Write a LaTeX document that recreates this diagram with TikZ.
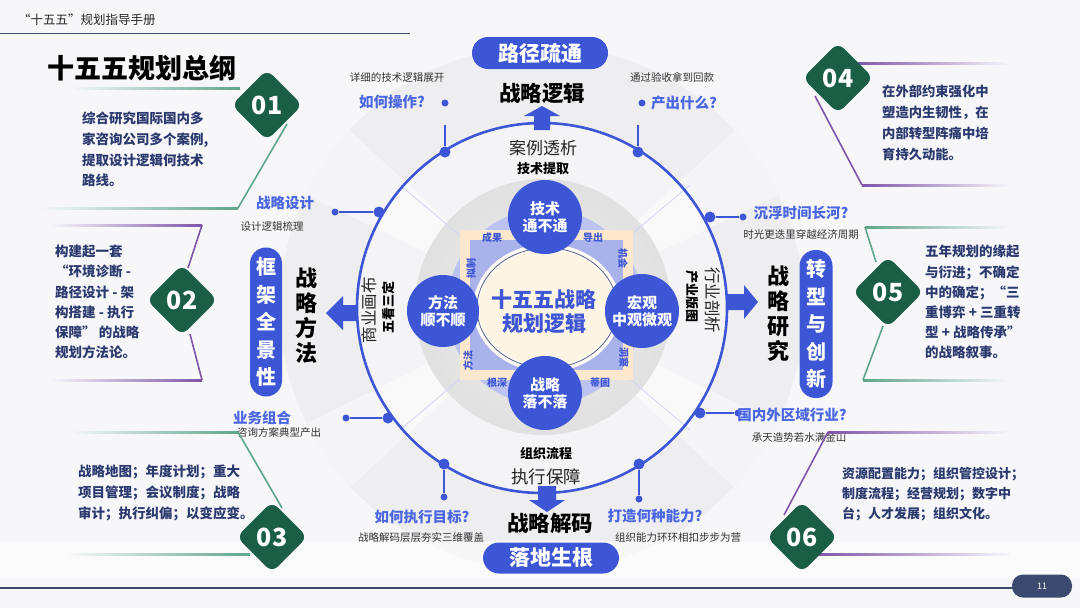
\documentclass[tikz,border=0pt]{standalone}
\usepackage{fontspec}
\setmainfont{Noto Sans CJK SC}
\usetikzlibrary{calc}
\definecolor{mblue}{HTML}{3D56D6}
\definecolor{qblue}{HTML}{4A66E2}
\definecolor{navy}{HTML}{2B3A6E}
\definecolor{dgreen}{HTML}{1B5E46}
\definecolor{lgreen}{HTML}{5FA58A}
\definecolor{lpurple}{HTML}{7E55A8}
\definecolor{bgc}{HTML}{F7F7FA}
\definecolor{hdr}{HTML}{3B4A6E}
\definecolor{bggray}{HTML}{EEEEF1}
\definecolor{lav}{HTML}{BCC3F0}
\definecolor{cream}{HTML}{FBE8CC}
\definecolor{inblue}{HTML}{A9B2EA}
\definecolor{ccream}{HTML}{FDF4E3}
\newcommand\fsz[2]{\fontsize{#1}{#2}\selectfont}
\begin{document}
\begin{tikzpicture}[x=1pt,y=-1pt,
  ringdot/.style={circle,fill=mblue,inner sep=0pt,minimum size=11pt},
  smalldot/.style={circle,fill=mblue,inner sep=0pt,minimum size=7pt},
  qlabel/.style={text=qblue,font=\fsz{14.5}{17}\bfseries,inner sep=0pt},
  note/.style={text=black!80,font=\fsz{10.5}{12},inner sep=0pt},
  pill/.style={fill=mblue,rounded corners=16pt,text=white,inner sep=0pt},
  gdiamond/.style={fill=dgreen,rounded corners=8pt,rotate=45,minimum size=50pt,inner sep=0pt},
  dnum/.style={text=white,font=\fsz{25}{28}\bfseries,inner sep=0pt},
  bcircle/.style={circle,fill=mblue,text=white,font=\fsz{15}{17}\bfseries,align=center,minimum size=74pt,inner sep=0pt},
  block/.style={text=navy,font=\fsz{13.5}{20.6}\bfseries,align=left,anchor=north west,inner sep=0pt},
  sqlabel/.style={text=mblue,font=\fsz{10}{11}\bfseries,inner sep=0pt},
  conn/.style={mblue,line width=1.3pt},
  gline/.style={lgreen,line width=1.6pt},
  pline/.style={lpurple,line width=1.6pt},
  bigtitle/.style={text=black,font=\fsz{21.5}{24}\bfseries,inner sep=0pt},
  vtitle/.style={text=black,font=\fsz{22}{25}\bfseries,align=center,inner sep=0pt},
]
\useasboundingbox (0,0) rectangle (1080,608);
% ---------- background ----------
\fill[bgc] (0,0) rectangle (1080,608);
\fill[bggray] (542,308) circle (262);
\begin{scope}
\clip (542,308) circle (262);
\fill[white,opacity=.45] (542,308) -- (230,20) -- (150,120) -- cycle;
\fill[white,opacity=.45] (542,308) -- (855,20) -- (935,120) -- cycle;
\fill[white,opacity=.45] (542,308) -- (230,600) -- (150,500) -- cycle;
\fill[white,opacity=.45] (542,308) -- (855,600) -- (935,500) -- cycle;
\end{scope}
\fill[white,opacity=.55] (0,541) rectangle (1080,579);
\fill[white,opacity=.4] (542,308) circle (184);
% inner layers
\shade[inner color=gray!12,outer color=gray!24] (543,307) circle (128);
\fill[lav] (545,307) circle (98);
\draw[lav!70!white,line width=.8pt] (545,307) -- (400,185);
\draw[lav!70!white,line width=.8pt] (545,307) -- (690,185);
\draw[lav!70!white,line width=.8pt] (545,307) -- (400,430);
\draw[lav!70!white,line width=.8pt] (545,307) -- (690,430);
\fill[cream] (460,230) rectangle (633,380);
\fill[inblue] (470,240) rectangle (623,370);
\fill[white!60!ccream] (547,308) ellipse (74 and 64);
\fill[ccream] (547,308) ellipse (68 and 58);
\draw[navy!80,line width=.8pt] (547,308) ellipse (70 and 60);
% ---------- header ----------
\node[anchor=west,text=black!85,font=\fsz{12.5}{14},inner sep=0pt] (hdrtxt) at (18,20) {“十五五”规划指导手册};
\draw[hdr,line width=1pt] (0,33) -- (410,33);
\node[anchor=west,text=black,font=\fsz{27}{30}\bfseries,inner sep=0pt] (title) at (47,68) {十五五规划总纲};
% ---------- footer ----------
\draw[hdr,line width=1.2pt] (0,588) -- (1015,588);
\node[fill=hdr,rounded corners=11pt,minimum width=60pt,minimum height=23pt,text=white!85,font=\fsz{9}{10},inner sep=0pt] (pg) at (1042,586) {11};
% ---------- main ring ----------
\draw[mblue,line width=2.6pt] (542,308) circle (185);
% arrows
\fill[mblue] (534,130) -- (534,116) -- (524,116) -- (542,106) -- (560,116) -- (550,116) -- (550,130) -- cycle;
\fill[mblue] (357,305) -- (343,305) -- (343,296) -- (326,313) -- (343,330) -- (343,321) -- (357,321) -- cycle;
\fill[mblue] (728,294) -- (744,294) -- (744,285) -- (758,302) -- (744,319) -- (744,310) -- (728,310) -- cycle;
\fill[mblue] (538,486) -- (538,500) -- (529,500) -- (547,512) -- (565,500) -- (556,500) -- (556,486) -- cycle;
% ring dots and connectors
\node[ringdot] (rTL) at (445,152) {};
\node[ringdot] (rTR) at (638,152) {};
\node[ringdot] (rLU) at (379,212) {};
\node[ringdot] (rLD) at (388,418) {};
\node[ringdot] (rRU) at (710,217) {};
\node[ringdot] (rRD) at (700,413) {};
\node[ringdot] (rBL) at (444,464) {};
\node[ringdot] (rBR) at (639,464) {};
\coordinate (eTL) at (445,125);
\coordinate (eTR) at (638,125);
\node[smalldot] (sTL) at (445,103) {};
\node[smalldot] (sTR) at (642,103) {};
\node[smalldot] (sLU) at (335,212) {};
\node[smalldot] (sLD) at (346,418) {};
\node[smalldot] (sRU) at (743,217) {};
\node[smalldot] (sRD) at (738,413) {};
\node[smalldot] (sBL) at (444,497) {};
\node[smalldot] (sBR) at (639,499) {};
\draw[conn] (rTL) -- (eTL);
\draw[conn] (rTR) -- (eTR);
\draw[conn] (rLU) -- (sLU);
\draw[conn] (rLD) -- (sLD);
\draw[conn] (rRU) -- (sRU);
\draw[conn] (rRD) -- (sRD);
\draw[conn] (rBL) -- (sBL);
\draw[conn] (rBR) -- (sBR);
% ---------- top ----------
\node[pill,minimum width=136pt,minimum height=32pt,font=\fsz{21}{24}\bfseries] (pTop) at (540,53) {路径疏通};
\node[bigtitle] (tTop) at (542,93) {战略逻辑};
\node[text=black!85,font=\fsz{17}{20},inner sep=0pt] (aTop) at (543,148) {案例透析};
\node[text=black,font=\fsz{13}{15}\bfseries,inner sep=0pt] (bTop) at (543,169) {技术提取};
\node[note] (n1) at (397,78) {详细的技术逻辑展开};
\node[qlabel] (q1) at (392,102) {如何操作?};
\node[note] (n2) at (672,77) {通过验收拿到回款};
\node[qlabel] (q2) at (684,103) {产出什么?};
% ---------- left ----------
\node[qlabel] (q3) at (285,203) {战略设计};
\node[note] (n3) at (272,227) {设计逻辑梳理};
\node[qlabel] (q4) at (262,418) {业务组合};
\node[note] (n4) at (279,433) {咨询方案典型产出};
\node[pill,minimum width=32pt,minimum height=149pt,align=center,font=\fsz{20}{27.5}\bfseries] (pLeft) at (266,322) {框\\架\\全\\景\\性};
\node[vtitle] (tLeft) at (306,316) {战\\略\\方\\法};
\node[text=black!85,font=\fsz{16.5}{18},inner sep=0pt,rotate=90] (aLeft) at (369,310) {商业画布};
\node[text=black,font=\fsz{13}{15}\bfseries,inner sep=0pt,rotate=90] (bLeft) at (388,307) {五看三定};
% ---------- right ----------
\node[qlabel] (q5) at (801,213) {沉浮时间长河?};
\node[note] (n5) at (801,235) {时光更迭里穿越经济周期};
\node[qlabel] (q6) at (792,415) {国内外区域行业?};
\node[note] (n6) at (799,437) {承天造势若水满金山};
\node[pill,minimum width=33pt,minimum height=148pt,align=center,font=\fsz{20}{27.5}\bfseries] (pRight) at (816,324) {转\\型\\与\\创\\新};
\node[vtitle] (tRight) at (778,314) {战\\略\\研\\究};
\node[text=black!85,font=\fsz{16.5}{18},inner sep=0pt,rotate=-90] (aRight) at (713,300) {行业剖析};
\node[text=black,font=\fsz{13}{15}\bfseries,inner sep=0pt,rotate=-90] (bRight) at (692,296) {产业版图};
% ---------- bottom ----------
\node[text=black,font=\fsz{13}{15}\bfseries,inner sep=0pt] (aBot) at (546,454) {组织流程};
\node[text=black!85,font=\fsz{17.5}{20},inner sep=0pt] (bBot) at (546,477) {执行保障};
\node[bigtitle] (tBot) at (550,523) {战略解码};
\node[pill,minimum width=136pt,minimum height=31pt,font=\fsz{21}{24}\bfseries] (pBot) at (551,558) {落地生根};
\node[qlabel] (q7) at (422,517) {如何执行目标?};
\node[note] (n7) at (421,538) {战略解码层层夯实三维覆盖};
\node[qlabel] (q8) at (655,516) {打造何种能力?};
\node[note] (n8) at (678,538) {组织能力环环相扣步步为营};
% ---------- centre ----------
\node[sqlabel] (s1) at (492,238) {成果};
\node[sqlabel] (s2) at (593,238) {导出};
\node[sqlabel,rotate=-90] (s3) at (623,258) {机会};
\node[sqlabel,rotate=90] (s4) at (471,268) {拟制};
\node[sqlabel,rotate=90] (s5) at (468,360) {方法};
\node[sqlabel,rotate=-90] (s6) at (624,357) {洞察};
\node[sqlabel] (s7) at (497,383) {根深};
\node[sqlabel] (s8) at (600,383) {蒂固};
\node[bcircle] (cT) at (545,217) {技术\\通不通};
\node[bcircle,minimum size=72pt] (cL) at (443,311) {方法\\顺不顺};
\node[bcircle] (cR) at (642,311) {宏观\\中观微观};
\node[bcircle] (cB) at (545,393) {战略\\落不落};
\node[text=mblue,font=\fsz{21}{24}\bfseries,align=center,inner sep=0pt] (ctr) at (544,312) {十五五战略\\规划逻辑};
% ---------- side blocks: lines ----------
% 01
\shade[left color=bgc,right color=lgreen] (70,87.2) rectangle (240,89.2);
\coordinate (a1) at (287,124);
\coordinate (b1) at (238,208);
\draw[gline] (a1) -- (b1);
\shade[left color=bgc,right color=lgreen] (40,207.2) rectangle (238,209.2);
% 02
\coordinate (a2t) at (202,225);
\coordinate (b2t) at (188,268);
\coordinate (a2b) at (190,334);
\coordinate (b2b) at (202,380);
\shade[left color=bgc,right color=lpurple] (50,224.2) rectangle (202,226.2);
\draw[pline] (a2t) -- (b2t);
\draw[pline] (a2b) -- (b2b);
\shade[left color=bgc,right color=lpurple] (50,379.2) rectangle (202,381.2);
% 03
\coordinate (a3) at (238,432);
\coordinate (b3) at (282,508);
\shade[left color=bgc,right color=lgreen] (70,431.2) rectangle (238,433.2);
\draw[gline] (a3) -- (b3);
\shade[left color=bgc,right color=lgreen] (70,553.2) rectangle (250,555.2);
% 04
\coordinate (a4) at (815,96);
\coordinate (b4) at (862,185);
\shade[left color=lpurple,right color=bgc] (855,62.2) rectangle (1010,64.2);
\draw[pline] (a4) -- (b4);
\shade[left color=lpurple,right color=bgc] (862,184.2) rectangle (1010,186.2);
% 05
\coordinate (a5t) at (865,227);
\coordinate (b5t) at (876,262);
\coordinate (a5b) at (883,326);
\coordinate (b5b) at (863,380);
\shade[left color=lgreen,right color=bgc] (865,226.2) rectangle (1010,228.2);
\draw[gline] (a5t) -- (b5t);
\draw[gline] (a5b) -- (b5b);
\shade[left color=lgreen,right color=bgc] (863,379.2) rectangle (1010,381.2);
% 06
\coordinate (a6) at (828,432);
\coordinate (b6) at (784,515);
\shade[left color=lpurple,right color=bgc] (828,431.2) rectangle (1010,433.2);
\draw[pline] (a6) -- (b6);
\shade[left color=lpurple,right color=bgc] (815,553.2) rectangle (1010,555.2);
% diamonds
\node[gdiamond] (d1) at (267,105) {};
\node[dnum] (d1n) at (d1) {01};
\node[gdiamond] (d2) at (182,300) {};
\node[dnum] (d2n) at (d2) {02};
\node[gdiamond] (d3) at (272,537) {};
\node[dnum] (d3n) at (d3) {03};
\node[gdiamond] (d4) at (838,78) {};
\node[dnum] (d4n) at (d4) {04};
\node[gdiamond] (d5) at (888,292) {};
\node[dnum] (d5n) at (d5) {05};
\node[gdiamond] (d6) at (802,537) {};
\node[dnum] (d6n) at (d6) {06};
% text blocks
\node[block] (t1) at (82,112) {综合研究国际国内多\\家咨询公司多个案例,\\提取设计逻辑何技术\\路线。};
\node[block,font=\fsz{13.5}{20.2}\bfseries] (t2) at (55,245) {构建起一套\\“环境诊断 -\\路径设计 - 架\\构搭建 - 执行\\保障” 的战略\\规划方法论。};
\node[block,font=\fsz{13.5}{21}\bfseries] (t3) at (78,465) {战略地图；年度计划；重大\\项目管理；会议制度；战略\\审计；执行纠偏；以变应变。};
\node[block,font=\fsz{13.3}{21}\bfseries] (t4) at (882,85) {在外部约束强化中\\塑造内生韧性，在\\内部转型阵痛中培\\育持久动能。};
\node[block,font=\fsz{13.5}{20.2}\bfseries] (t5) at (925,245) {五年规划的缘起\\与衍进；不确定\\中的确定；“三\\重博弈 + 三重转\\型 + 战略传承”\\的战略叙事。};
\node[block,font=\fsz{13}{20}\bfseries] (t6) at (842,467) {资源配置能力；组织管控设计；\\制度流程；经营规划；数字中\\台；人才发展；组织文化。};
\end{tikzpicture}
\end{document}
